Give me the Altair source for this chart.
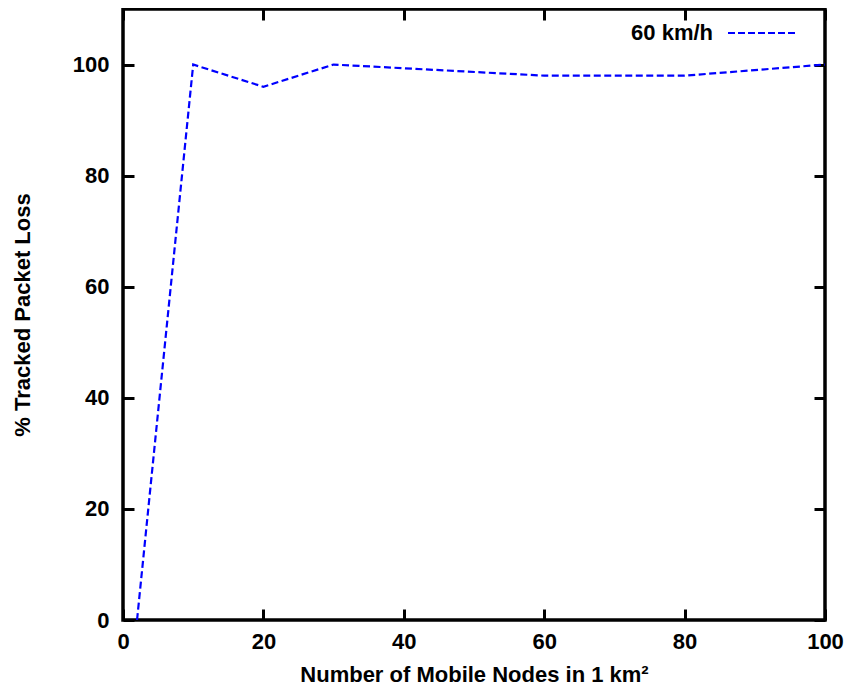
import altair as alt
import pandas as pd

nodes = [2, 10, 20, 30, 60, 80, 100]
loss = [0, 100, 96, 100, 98, 98, 100]
series_name = "60 km/h"
x_ticks = [0, 20, 40, 60, 80, 100]
y_ticks = [0, 20, 40, 60, 80, 100]

df = pd.DataFrame({"nodes": nodes, "loss": loss})

FONT = "Liberation Sans"
FS = 22
BLUE = "#0000ff"
TICK = 11

xscale = alt.Scale(domain=[0, 100], nice=False, zero=False)
yscale = alt.Scale(domain=[0, 110], nice=False)

common = dict(tickSize=TICK, offset=-TICK, tickWidth=3, tickColor="black", domain=False, grid=False,
              labelFlush=False, labelFont=FONT, labelFontSize=FS, labelFontWeight="bold",
              labelColor="black", titleFont=FONT, titleFontSize=FS, titleFontWeight="bold",
              titleColor="black")

line = alt.Chart(df).mark_line(color=BLUE, strokeWidth=2.2, strokeDash=[7, 3.5], clip=True).encode(
    x=alt.X("nodes:Q", scale=xscale,
            axis=alt.Axis(values=x_ticks, title="Number of Mobile Nodes in 1 km²", orient="bottom",
                          labelPadding=11, titlePadding=12, **common)),
    y=alt.Y("loss:Q", scale=yscale,
            axis=alt.Axis(values=y_ticks, title="% Tracked Packet Loss", orient="left",
                          labelPadding=14, titlePadding=38, **common)),
)

mirror_common = dict(tickSize=TICK, offset=-TICK, tickWidth=3, tickColor="black", domain=False,
                     grid=False, labels=False, title=None)
mirror = alt.Chart(df).mark_point(opacity=0).encode(
    x=alt.X("nodes:Q", scale=xscale, axis=alt.Axis(values=x_ticks, orient="top", **mirror_common)),
    y=alt.Y("loss:Q", scale=yscale, axis=alt.Axis(values=y_ticks, orient="right", **mirror_common)),
)

legend_df = pd.DataFrame({"name": [series_name]})
legend_text = alt.Chart(legend_df).mark_text(
    align="right", baseline="middle", font=FONT, fontSize=FS, fontWeight="bold", color="black"
).encode(text="name:N", x=alt.value(590), y=alt.value(24))
legend_line = alt.Chart(legend_df).mark_rule(color=BLUE, strokeWidth=2.2, strokeDash=[7, 3]).encode(
    x=alt.value(605), x2=alt.value(674), y=alt.value(24)
)

chart = alt.layer(line, mirror, legend_text, legend_line).resolve_axis(
    x="independent", y="independent"
).properties(
    width=702, height=611, autosize=alt.AutoSizeParams(type="none"),
    padding={"left": 115, "top": 1, "right": 19, "bottom": 68},
    background="white",
).configure_view(stroke="black", strokeWidth=3.5)

chart.save("out.html", embed_options={"renderer": "svg", "actions": False})
